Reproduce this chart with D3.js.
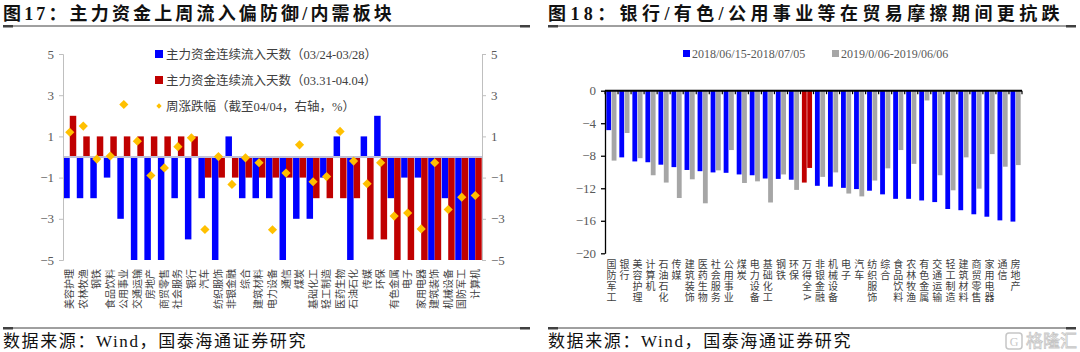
<!DOCTYPE html>
<html>
<head>
<meta charset="utf-8">
<script src="https://cdn.jsdelivr.net/npm/d3@7"></script>
<style>
  body { margin: 0; background: #fff; }
  text { font-family: "Liberation Serif", "Noto Sans CJK SC", serif; }
</style>
</head>
<body>
<div id="chart"></div>
<script>
// ---- left chart data (图17)
const leftCats = ["美容护理","农林牧渔","钢铁","食品饮料","公用事业","交通运输","房地产","商贸零售","社会服务","银行",
  "汽车","纺织服饰","非银金融","综合","建筑材料","电力设备","通信","煤炭","基础化工","轻工制造",
  "医药生物","石油石化","传媒","环保","有色金属","电子","家用电器","建筑装饰","机械设备","国防军工","计算机"];
const flowDays1 = [-2,-2,-2,-1,-3,-5,-5,-5,-2,-4,-2,-5,1,-2,-2,-2,-5,-3,-3,-1,1,-5,1,2,-2,-1,-1,-5,-2,-5,-5];
const flowDays2 = [2,1,1,1,1,1,1,1,1,1,-1,-1,-1,-1,-1,-1,-1,-1,-2,-2,-2,-2,-4,-4,-5,-5,-5,-5,-5,-5,-5];
const weekChg = [1.2,1.5,-0.1,0.05,2.55,0.77,-0.9,-0.53,0.5,0.93,-3.52,0.02,-1.33,-0.04,-0.28,-3.53,-0.78,0.59,-1.2,-0.95,
  1.24,-0.2,-1.3,-0.28,-2.87,-2.72,-3.49,-0.28,-2.55,-1.95,-1.87];
const leftTicks = [5,3,1,-1,-3,-5];
const leftLegend = ["主力资金连续流入天数（03/24-03/28）","主力资金连续流入天数（03.31-04.04）","周涨跌幅（截至04/04，右轴，%）"];

// ---- right chart data (图18)
const rightCats = ["国防军工","银行","美容护理","计算机","石油石化","传媒","建筑装饰","医药生物","社会服务","公用事业",
  "煤炭","电力设备","基础化工","钢铁","环保","万得全A","非银金融","机械设备","电子","汽车",
  "纺织服饰","综合","食品饮料","农林牧渔","有色金属","交通运输","轻工制造","建筑材料","商贸零售","家用电器","通信","房地产"];
const chg2018 = [-4.85,-8.2,-8.7,-8.8,-9.1,-9.4,-9.75,-9.9,-10.05,-10.1,-10.3,-10.4,-10.8,-10.85,-10.95,-11.3,
  -11.7,-11.8,-11.95,-12.1,-12.3,-12.75,-13.3,-13.3,-13.5,-13.7,-14.55,-14.7,-15.2,-15.5,-15.95,-16.1];
const chg2019 = [-8.6,-5.2,-8.3,-10.4,-11.3,-13.2,-10.9,-13.85,-9.8,-7.3,-11.35,-11.15,-13.75,-10.3,-12.2,-9.5,
  -10.6,-10.05,-12.65,-13.0,-11.05,-9.55,-7.3,-9.0,-1.2,-10.4,-12.25,-8.2,-12.05,-7.8,-9.35,-9.15];
const rightTicks = [0,-4,-8,-12,-16,-20];
const rightLegend = ["2018/06/15-2018/07/05","2019/0/06-2019/06/06"];

const blue = "#0000ff", red = "#c00000", grey = "#a6a6a6", gold = "#ffc000";
const txt = "#404040";

const svg = d3.select("#chart").append("svg")
  .attr("width", 1080).attr("height", 352)
  .style("display", "block");
svg.append("rect").attr("width", 1080).attr("height", 352).attr("fill", "#fff");

// spread a text's letters so it ends at a given x
function fitTo(sel, width) {
  const n = Array.from(sel.text()).length;
  const natural = sel.node().getComputedTextLength();
  sel.attr("letter-spacing", Math.max(0, (width - natural) / n));
}

// titles, rules, source
function frame(x0, x1, title, titleW) {
  const t = svg.append("text").attr("x", x0).attr("y", 20)
    .attr("font-size", 18).attr("font-weight", "bold")
    .attr("fill", "#111").text(title);
  fitTo(t, titleW);
  [26, 328].forEach(y => {
    svg.append("line").attr("x1", x0).attr("x2", x1).attr("y1", y).attr("y2", y)
      .attr("stroke", "#404040").attr("stroke-width", 1);
    svg.append("rect").attr("x", x0).attr("y", y - 1).attr("width", 10).attr("height", 2.5).attr("fill", "#404040");
    svg.append("rect").attr("x", x1 - 10).attr("y", y - 1).attr("width", 10).attr("height", 2.5).attr("fill", "#404040");
  });
  const s = svg.append("text").attr("x", x0).attr("y", 347)
    .attr("font-size", 17).attr("fill", "#111")
    .text("数据来源：Wind，国泰海通证券研究");
  fitTo(s, 304);
}
frame(3, 530, "图17：主力资金上周流入偏防御/内需板块", 392);
frame(548, 1076, "图18：银行/有色/公用事业等在贸易摩擦期间更抗跌", 516);

// ================= left chart
const L = { x0: 63, x1: 482, yTop: 54, yBot: 260 };
const gL = svg.append("g");
const xL = d3.scaleBand().domain(leftCats).range([L.x0, L.x1]).paddingInner(0.04).paddingOuter(0.02);
const xLi = d3.scaleBand().domain([0, 1]).range([0, xL.bandwidth()]);
const yL = d3.scaleLinear().domain([-5, 5]).range([L.yBot, L.yTop]);

const leftRows = leftCats.map((c, i) => ({ c, a: flowDays1[i], b: flowDays2[i], w: weekChg[i] }));

gL.selectAll("rect.a").data(leftRows).enter().append("rect")
  .attr("x", d => xL(d.c) + xLi(0)).attr("width", xLi.bandwidth())
  .attr("y", d => yL(Math.max(0, d.a))).attr("height", d => Math.abs(yL(d.a) - yL(0)))
  .attr("fill", blue);
gL.selectAll("rect.b").data(leftRows).enter().append("rect")
  .attr("x", d => xL(d.c) + xLi(1)).attr("width", xLi.bandwidth())
  .attr("y", d => yL(Math.max(0, d.b))).attr("height", d => Math.abs(yL(d.b) - yL(0)))
  .attr("fill", red);

gL.append("line").attr("x1", L.x0).attr("x2", L.x1).attr("y1", yL(0)).attr("y2", yL(0))
  .attr("stroke", "#c0c0d8").attr("stroke-width", 2);

const axL = d3.axisLeft(yL).tickValues(leftTicks).tickSize(4).tickPadding(5);
const axR = d3.axisRight(yL).tickValues(leftTicks).tickSize(4).tickPadding(5);
[[axL, L.x0], [axR, L.x1]].forEach(([ax, x]) => {
  const g = gL.append("g").attr("transform", `translate(${x},0)`).call(ax);
  g.select(".domain").attr("stroke", "#bfbfbf");
  g.selectAll(".tick line").attr("stroke", "#bfbfbf");
  g.selectAll(".tick text").attr("font-size", 13).attr("fill", "#595959")
    .attr("font-family", "Liberation Serif");
});

const diamond = d3.symbol().type(d3.symbolSquare).size(42);
gL.selectAll("path.w").data(leftRows).enter().append("path")
  .attr("d", diamond)
  .attr("transform", d => `translate(${xL(d.c) + xL.bandwidth() / 2},${yL(d.w)}) rotate(45)`)
  .attr("fill", gold);

gL.selectAll("text.cat").data(leftCats).enter().append("text")
  .attr("transform", d => `translate(${xL(d) + xL.bandwidth() / 2 + 3.5},269) rotate(-90)`)
  .attr("text-anchor", "end").attr("font-size", 10).attr("fill", txt)
  .text(d => d);

// legend
const legL = gL.append("g").attr("transform", "translate(155,0)");
leftLegend.forEach((t, i) => {
  const cy = 54 + i * 26;
  if (i < 2) {
    legL.append("rect").attr("x", 0).attr("y", cy - 4).attr("width", 8).attr("height", 8).attr("fill", i ? red : blue);
  } else {
    legL.append("path").attr("d", d3.symbol().type(d3.symbolSquare).size(14))
      .attr("transform", `translate(4,${cy}) rotate(45)`).attr("fill", gold);
  }
  legL.append("text").attr("x", 11).attr("y", cy + 4.5).attr("font-size", 12.5).attr("fill", txt).text(t);
});

// ================= right chart
const R = { x0: 605, x1: 1022, yTop: 90.7, yBot: 253.3 };
const gR = svg.append("g");
const xR = d3.scaleBand().domain(rightCats).range([R.x0, R.x1]).paddingInner(0.22).paddingOuter(0.1);
const xRi = d3.scaleBand().domain([0, 1]).range([0, xR.bandwidth()]).paddingInner(0.1);
const yR = d3.scaleLinear().domain([-20, 0]).range([R.yBot, R.yTop]);

const rightRows = rightCats.map((c, i) => ({ c, a: chg2018[i], b: chg2019[i] }));
const isIndex = d => d.c === "万得全A";

gR.selectAll("rect.a").data(rightRows).enter().append("rect")
  .attr("x", d => xR(d.c) + xRi(0)).attr("width", xRi.bandwidth())
  .attr("y", yR(0)).attr("height", d => yR(d.a) - yR(0))
  .attr("fill", d => isIndex(d) ? red : blue);
gR.selectAll("rect.b").data(rightRows).enter().append("rect")
  .attr("x", d => xR(d.c) + xRi(1)).attr("width", xRi.bandwidth())
  .attr("y", yR(0)).attr("height", d => yR(d.b) - yR(0))
  .attr("fill", d => isIndex(d) ? red : grey);

const axY = gR.append("g").attr("transform", `translate(${R.x0},0)`)
  .call(d3.axisLeft(yR).tickValues(rightTicks).tickSize(4).tickPadding(5).tickSizeOuter(0));
axY.select(".domain").attr("stroke", "#000").attr("stroke-width", 1.3);
axY.selectAll(".tick line").attr("stroke", "#000").attr("stroke-width", 1.3);
axY.selectAll(".tick text").attr("font-size", 13).attr("fill", "#595959").attr("font-family", "Liberation Serif");

// zero baseline with category ticks
const bounds = d3.range(rightCats.length + 1).map(i => R.x0 + i * (R.x1 - R.x0) / rightCats.length);
gR.append("line").attr("x1", R.x0).attr("x2", R.x1).attr("y1", yR(0)).attr("y2", yR(0))
  .attr("stroke", "#000").attr("stroke-width", 2);
gR.selectAll("line.bt").data(bounds).enter().append("line")
  .attr("x1", d => d).attr("x2", d => d).attr("y1", yR(0)).attr("y2", yR(0) + 3.5)
  .attr("stroke", "#000").attr("stroke-width", 1.2);

// stacked vertical labels
rightCats.forEach(c => {
  const cx = xR(c) + xR.bandwidth() / 2;
  Array.from(c).forEach((ch, j) => {
    const y = 268 + j * 11;
    const t = gR.append("text").attr("font-size", 10).attr("fill", txt).attr("text-anchor", "middle").text(ch);
    if (/[A-Za-z]/.test(ch)) t.attr("transform", `translate(${cx - 3},${y - 4}) rotate(90)`);
    else t.attr("x", cx).attr("y", y);
  });
});

// legend
const legR = [[683, blue], [832, grey]];
rightLegend.forEach((t, i) => {
  const [lx, col] = legR[i];
  gR.append("rect").attr("x", lx).attr("y", 50).attr("width", 7).attr("height", 7).attr("fill", col);
  gR.append("text").attr("x", lx + 9).attr("y", 58).attr("font-size", 12).attr("fill", "#595959").text(t);
});

// watermark
const wm = svg.append("g").attr("opacity", 0.55);
wm.append("rect").attr("x", 1006).attr("y", 333).attr("width", 16).attr("height", 16).attr("rx", 3)
  .attr("fill", "none").attr("stroke", "#999").attr("stroke-width", 1.5);
wm.append("text").attr("x", 1014).attr("y", 346).attr("text-anchor", "middle").attr("font-size", 12)
  .attr("font-family", "Noto Sans").attr("fill", "#999").text("G");
wm.append("text").attr("x", 1026).attr("y", 347).attr("font-size", 17)
  .attr("fill", "none").attr("stroke", "#999").attr("stroke-width", 0.8).text("格隆汇");
</script>
</body>
</html>
